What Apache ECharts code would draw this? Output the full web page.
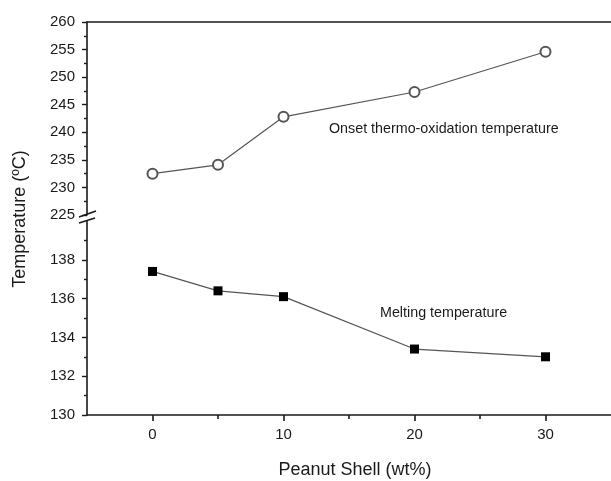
<!DOCTYPE html>
<html>
<head>
<meta charset="utf-8">
<style>
  html, body { margin: 0; padding: 0; background: #fff; }
  #chart { width: 611px; height: 481px; }
</style>
<script src="https://cdn.jsdelivr.net/npm/echarts@6/dist/echarts.min.js"></script>
</head>
<body>
<div id="chart"></div>
<script>
// Peanut shell content (wt%)
const shellContent = [0, 5, 10, 20, 30];
// Onset thermo-oxidation temperature (°C)
const onsetTemp = [232.5, 234.1, 242.8, 247.3, 254.6];
// Melting temperature (°C)
const meltTemp = [137.4, 136.4, 136.1, 133.4, 133.0];
// Tick positions on the x axis
const xTickValues = [0, 10, 20, 30];
const xMinorValues = [5, 15, 25];
const lowerTickValues = [130, 132, 134, 136, 138];

const FONT = 'Liberation Sans, Arial, sans-serif';
const INK = '#1a1a1a';

const chart = echarts.init(document.getElementById('chart'));

const gridLeft = 87;
const upperTop = 22, upperBottomY = 215;
const lowerTop = 221, lowerBottomY = 415;

const pairs = (xs, ys) => xs.map((x, i) => [x, ys[i]]);

const axisLineStyle = { color: INK, width: 1.6 };
const tickLabel = { fontFamily: FONT, fontSize: 15, color: INK };

chart.setOption({
  animation: false,
  grid: [
    { left: gridLeft, right: 0, top: upperTop, height: upperBottomY - upperTop },
    { left: gridLeft, right: 0, top: lowerTop, height: lowerBottomY - lowerTop }
  ],
  xAxis: [
    { // upper panel: frame line along the top
      gridIndex: 0, type: 'value', min: -5, max: 35, position: 'top',
      axisLine: { show: true, lineStyle: axisLineStyle },
      axisTick: { show: false }, axisLabel: { show: false }, splitLine: { show: false }
    },
    { // lower panel: main x axis
      gridIndex: 1, type: 'value', min: -5, max: 35, interval: 5, position: 'bottom',
      axisLine: { show: true, onZero: false, lineStyle: axisLineStyle },
      axisTick: { show: true, inside: false, length: 6, customValues: xTickValues, lineStyle: { color: INK, width: 1.6 } },
      axisLabel: Object.assign({ show: true, customValues: xTickValues, margin: 12 }, tickLabel),
      splitLine: { show: false }
    },
    { // lower panel: short ticks at the half-decades
      gridIndex: 1, type: 'value', min: -5, max: 35, interval: 5, position: 'bottom',
      axisLine: { show: false, onZero: false },
      axisTick: { show: true, inside: false, length: 4, customValues: xMinorValues, lineStyle: { color: INK, width: 1.6 } },
      axisLabel: { show: false }, splitLine: { show: false }
    }
  ],
  yAxis: [
    {
      gridIndex: 0, type: 'value', min: 225, max: 260, interval: 5,
      axisLine: { show: true, onZero: false, lineStyle: axisLineStyle },
      axisTick: { show: true, length: 5, lineStyle: { color: INK, width: 1.4 } },
      minorTick: { show: true, splitNumber: 2, length: 3, lineStyle: { color: INK, width: 1.4 } },
      axisLabel: Object.assign({ margin: 12 }, tickLabel),
      splitLine: { show: false }
    },
    {
      gridIndex: 1, type: 'value', min: 130, max: 140, interval: 2,
      axisLine: { show: true, onZero: false, lineStyle: axisLineStyle },
      axisTick: { show: true, length: 5, customValues: lowerTickValues, lineStyle: { color: INK, width: 1.4 } },
      minorTick: { show: true, splitNumber: 2, length: 3, lineStyle: { color: INK, width: 1.4 } },
      axisLabel: Object.assign({ margin: 12, showMaxLabel: false }, tickLabel),
      splitLine: { show: false }
    }
  ],
  series: [
    {
      name: 'Onset thermo-oxidation temperature', type: 'line',
      xAxisIndex: 0, yAxisIndex: 0,
      data: pairs(shellContent, onsetTemp),
      symbol: 'emptyCircle', symbolSize: 10,
      lineStyle: { color: '#555', width: 1.2 },
      itemStyle: { color: '#555', borderColor: '#555', borderWidth: 1.4 }
    },
    {
      name: 'Melting temperature', type: 'line',
      xAxisIndex: 1, yAxisIndex: 1,
      data: pairs(shellContent, meltTemp),
      symbol: 'rect', symbolSize: 9,
      lineStyle: { color: '#555', width: 1.2 },
      itemStyle: { color: '#000' }
    }
  ],
  graphic: [
    // axis break marks
    { type: 'line', shape: { x1: 79, y1: 217, x2: 96, y2: 211 }, style: { stroke: INK, lineWidth: 1.6 }, z: 100 },
    { type: 'line', shape: { x1: 79, y1: 223, x2: 95, y2: 218 }, style: { stroke: INK, lineWidth: 1.6 }, z: 100 },
    // curve annotations
    { type: 'text', x: 329, y: 129,
      style: { text: 'Onset thermo-oxidation temperature', font: '14.3px ' + FONT, fill: INK, verticalAlign: 'middle' } },
    { type: 'text', x: 380, y: 313,
      style: { text: 'Melting temperature', font: '14.3px ' + FONT, fill: INK, verticalAlign: 'middle' } },
    // axis titles
    { type: 'text', x: 20, y: 219, rotation: Math.PI / 2,
      style: { text: 'Temperature (ºC)', font: '18px ' + FONT, fill: INK, align: 'center', verticalAlign: 'middle' } },
    { type: 'text', x: 355, y: 470,
      style: { text: 'Peanut Shell (wt%)', font: '18px ' + FONT, fill: INK, align: 'center', verticalAlign: 'middle' } }
  ]
});
</script>
</body>
</html>
